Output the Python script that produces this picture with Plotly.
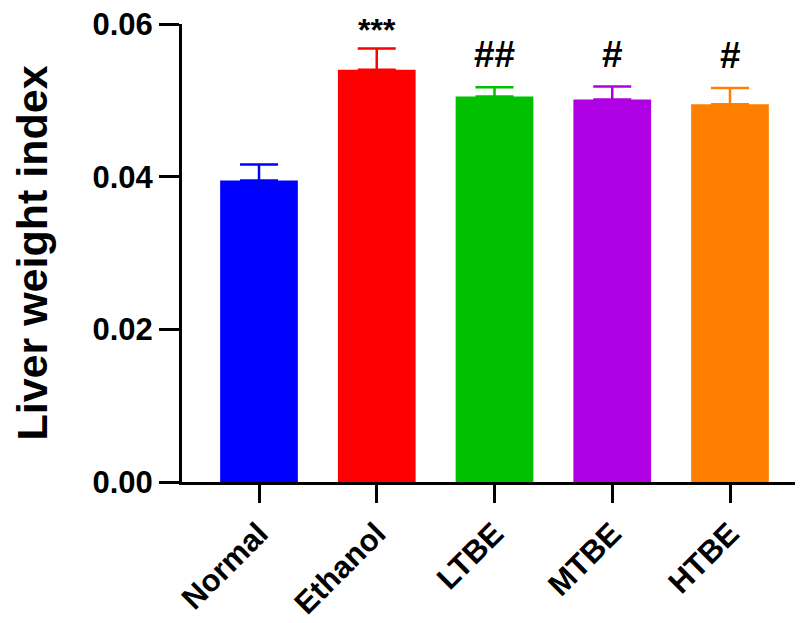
import plotly.graph_objects as go

categories = ["Normal", "Ethanol", "LTBE", "MTBE", "HTBE"]
means = [0.0395, 0.0540, 0.0505, 0.0501, 0.0495]
sems = [0.0021, 0.0028, 0.0012, 0.0017, 0.0021]
colors = ["#0000FF", "#FF0000", "#00C000", "#AE00E3", "#FF8000"]
marks = ["", "***", "##", "#", "#"]
y_ticks = [0.0, 0.02, 0.04, 0.06]
y_ticklabels = ["0.00", "0.02", "0.04", "0.06"]

FONT = "Liberation Sans, Arial, sans-serif"

fig = go.Figure()
for c, m, s, col in zip(categories, means, sems, colors):
    fig.add_trace(go.Bar(
        x=[c], y=[m], marker=dict(color=col, line=dict(width=0)),
        error_y=dict(type="data", array=[s], arrayminus=[0], symmetric=False,
                     color=col, thickness=2.5, width=19),
        showlegend=False,
    ))

for c, m, s, t in zip(categories, means, sems, marks):
    if t:
        fig.add_annotation(x=c, y=m + s, text="<b>%s</b>" % t, showarrow=False,
                           yanchor="bottom", yshift=10 if t.startswith("#") else -2,
                           font=dict(family=FONT, size=37 if t.startswith("#") else 32, color="black"))

# page body has an 8px margin: shrink the figure so the plot lands where the reference has it
fig.update_layout(
    width=795, height=615,
    margin=dict(l=174, r=0, t=16, b=141),
    plot_bgcolor="white", paper_bgcolor="white",
    bargap=0.34,
    font=dict(family=FONT, color="black"),
)
fig.update_xaxes(
    range=[-0.654, 4.62], automargin=False,
    showline=True, linecolor="black", linewidth=3,
    ticks="outside", ticklen=18, tickwidth=3, tickcolor="black",
    tickangle=-45,
    tickfont=dict(family=FONT, size=31, color="black"),
    tickvals=categories, ticktext=["<b>%s</b>" % c for c in categories],
    showgrid=False, zeroline=False,
)
fig.update_yaxes(
    range=[0, 0.06], automargin=False, ticklabeloverflow="allow",
    showline=True, linecolor="black", linewidth=3,
    ticks="outside", ticklen=20, tickwidth=3, tickcolor="black",
    tickvals=y_ticks, ticktext=["<b>%s</b>" % t for t in y_ticklabels],
    tickfont=dict(family=FONT, size=31, color="black"),
    title=dict(text="<b>Liver weight index</b>", font=dict(family=FONT, size=43, color="black"), standoff=32),
    showgrid=False, zeroline=False,
)

fig.write_html("out.html")
